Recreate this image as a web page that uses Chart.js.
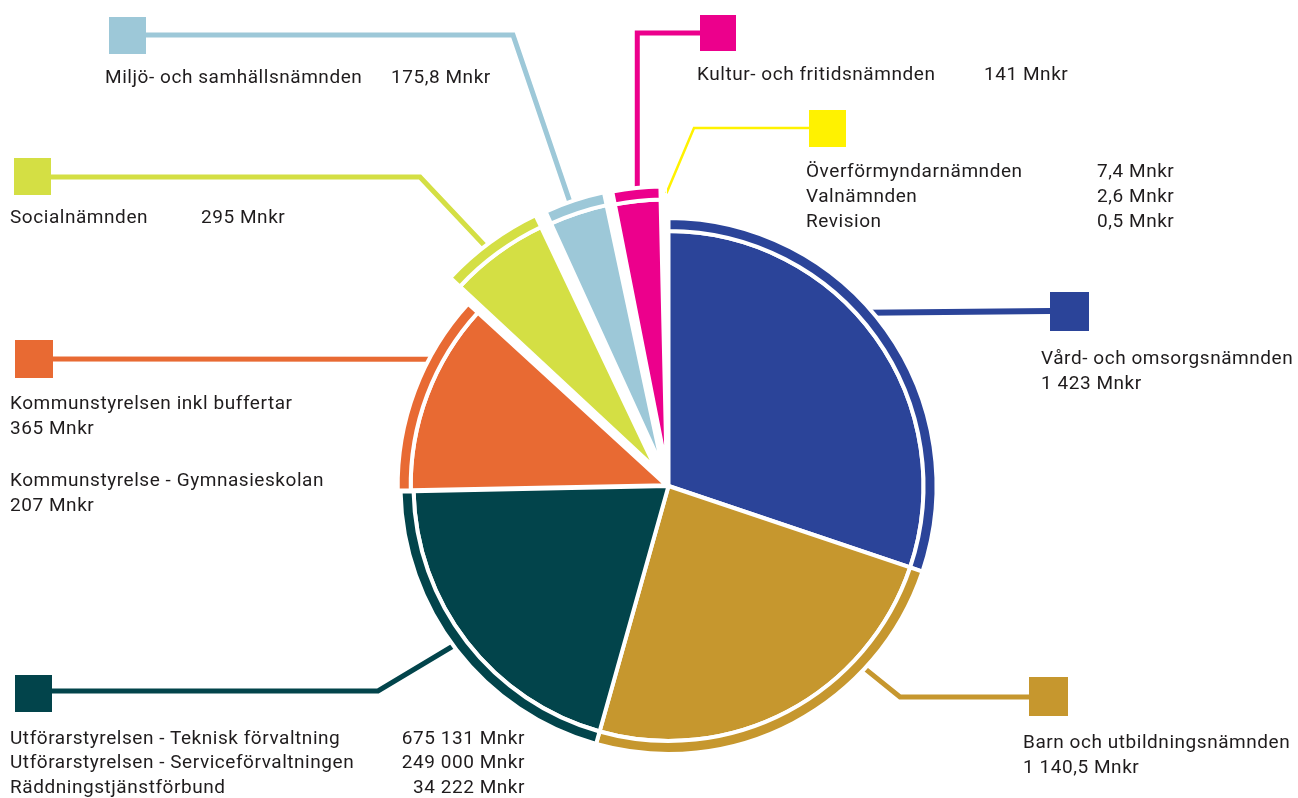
<!DOCTYPE html>
<html>
<head>
<meta charset="utf-8">
<script src="https://cdn.jsdelivr.net/npm/chart.js@4.4.0/dist/chart.umd.min.js"></script>
<style>
  html, body { margin: 0; padding: 0; background: #fff; }
  #wrap { position: relative; width: 1298px; height: 798px; overflow: hidden; }
  canvas { position: absolute; left: 0; top: 0; }
  .lbl {
    position: absolute;
    font-family: Roboto, sans-serif;
    font-size: 19px;
    line-height: 25px;
    color: #1f1c1d;
    white-space: nowrap;
    letter-spacing: 0.55px;
  }
</style>
</head>
<body>
<div id="wrap"><canvas id="c" width="1298" height="798"></canvas></div>
<script>
// slices, clockwise from 12 o'clock (Mnkr)
const categories = [
  'Vård- och omsorgsnämnden',
  'Barn och utbildningsnämnden',
  'Utförarstyrelsen',
  'Kommunstyrelsen',
  'Socialnämnden',
  'Miljö- och samhällsnämnden',
  'Kultur- och fritidsnämnden',
  'Överförmyndare / Valnämnd / Revision'
];
const utforarValues = [675.131, 249.0, 34.222];
const kommunValues = [365, 207];
const smallValues = [7.4, 2.6, 0.5];
const sum = a => a.reduce((s, v) => s + v, 0);
const values = [1423, 1140.5, sum(utforarValues), sum(kommunValues), 295, 175.8, 141, sum(smallValues)];

const colors = ['#2b4499', '#c6972e', '#02444b', '#e86a33', '#d4df44', '#9dc8d8', '#ec008c', '#fff200'];
const offsets = [0, 0, 0, 9, 84, 74, 70, 60];
const borders = [4, 4, 4, 4, 4, 4, 4, 1];

// text blocks: [left, centre y of first row, row step], rows of [name, amount]
const texts = [
  { x: 1041, y: 357, step: 25, rows: [['Vård- och omsorgsnämnden'], ['1 423 Mnkr']] },
  { x: 1023, y: 741, step: 25, rows: [['Barn och utbildningsnämnden'], ['1 140,5 Mnkr']] },
  { x: 10, y: 737, step: 24.5, valRight: 525, rows: [
      ['Utförarstyrelsen - Teknisk förvaltning', '675 131 Mnkr'],
      ['Utförarstyrelsen - Serviceförvaltningen', '249 000 Mnkr'],
      ['Räddningstjänstförbund', '34 222 Mnkr']] },
  { x: 10, y: 402, step: 25, rows: [['Kommunstyrelsen inkl buffertar'], ['365 Mnkr']] },
  { x: 10, y: 479, step: 25, rows: [['Kommunstyrelse - Gymnasieskolan'], ['207 Mnkr']] },
  { x: 10, y: 216, step: 25, valX: 201, rows: [['Socialnämnden', '295 Mnkr']] },
  { x: 105, y: 76, step: 25, valX: 391, rows: [['Miljö- och samhällsnämnden', '175,8 Mnkr']] },
  { x: 697, y: 73, step: 25, valX: 984, rows: [['Kultur- och fritidsnämnden', '141 Mnkr']] },
  { x: 806, y: 170, step: 25, valX: 1097, rows: [
      ['Överförmyndarnämnden', '7,4 Mnkr'],
      ['Valnämnden', '2,6 Mnkr'],
      ['Revision', '0,5 Mnkr']] }
];

// leader lines: slice, where on its arc (0..1), bends, key square [x, y, size]
const callouts = [
  { slice: 0, at: 0.449, lw: 6, path: [[1050, 311]], box: [1050, 292, 39] },
  { slice: 1, at: 0.28, lw: 5, path: [[900, 697], [1029, 697]], box: [1029, 677, 39] },
  { slice: 2, at: 0.514, lw: 5, path: [[378, 691], [52, 691]], box: [15, 675, 37] },
  { slice: 3, at: 0.68, lw: 5, path: [[53, 359]], box: [15, 340, 38] },
  { slice: 4, at: 0.45, lw: 5, path: [[420, 177], [51, 177]], box: [14, 158, 37] },
  { slice: 5, at: 0.43, lw: 5, path: [[513, 35], [146, 35]], box: [109, 17, 37] },
  { slice: 6, at: 0.51, lw: 5, path: [[null, 33], [700, 33]], box: [700, 15, 36] },
  { slice: 7, at: 0.5, lw: 2.5, path: [[694, 128], [809, 128]], box: [809, 110, 37] }
];

const wrap = document.getElementById('wrap');
function addText(str, x, y, right) {
  const d = document.createElement('div');
  d.className = 'lbl';
  d.textContent = str;
  d.style.top = (y - 12.5) + 'px';
  if (right) { d.style.right = (1298 - x) + 'px'; } else { d.style.left = x + 'px'; }
  wrap.appendChild(d);
}
texts.forEach(t => {
  t.rows.forEach((r, k) => {
    const y = t.y + k * t.step;
    addText(r[0], t.x, y);
    if (r[1]) {
      if (t.valRight) addText(r[1], t.valRight, y, true);
      else addText(r[1], t.valX, y);
    }
  });
});

// leader lines and key squares, anchored on the outer ring arcs
const calloutPlugin = {
  id: 'callouts',
  beforeDatasetsDraw(chart) {
    const ctx = chart.ctx;
    const ring = chart.getDatasetMeta(0).data;
    callouts.forEach(c => {
      const arc = ring[c.slice];
      const p = arc.getProps(['x', 'y', 'startAngle', 'endAngle', 'outerRadius', 'circumference'], true);
      const off = (arc.options.offset || 0) / 4;
      const mid = (p.startAngle + p.endAngle) / 2;
      const fix = 1 - Math.sin(Math.min(Math.PI, p.circumference));
      const r = p.outerRadius + off * fix - 5;
      const a = p.startAngle + (p.endAngle - p.startAngle) * c.at;
      const ax = p.x + Math.cos(mid) * off + Math.cos(a) * r;
      const ay = p.y + Math.sin(mid) * off + Math.sin(a) * r;
      ctx.save();
      ctx.strokeStyle = colors[c.slice];
      ctx.lineWidth = c.lw;
      ctx.lineJoin = 'miter';
      ctx.beginPath();
      ctx.moveTo(ax, ay);
      c.path.forEach(([x, y]) => ctx.lineTo(x === null ? ax : x, y));
      ctx.stroke();
      ctx.fillStyle = colors[c.slice];
      ctx.fillRect(c.box[0], c.box[1], c.box[2], c.box[2]);
      ctx.restore();
    });
  }
};

new Chart(document.getElementById('c'), {
  type: 'pie',
  data: {
    labels: categories,
    datasets: [
      // thin outer band
      { data: values, backgroundColor: colors, borderColor: '#fff', borderWidth: borders, offset: offsets, weight: 13 },
      // main pie
      { data: values, backgroundColor: colors, borderColor: '#fff', borderWidth: borders, offset: offsets, weight: 255 }
    ]
  },
  options: {
    responsive: false,
    animation: false,
    radius: 268,
    layout: { padding: { left: 39, top: 174, right: 0, bottom: 0 } },
    plugins: { legend: { display: false }, tooltip: { enabled: false } }
  },
  plugins: [calloutPlugin]
});
</script>
</body>
</html>
